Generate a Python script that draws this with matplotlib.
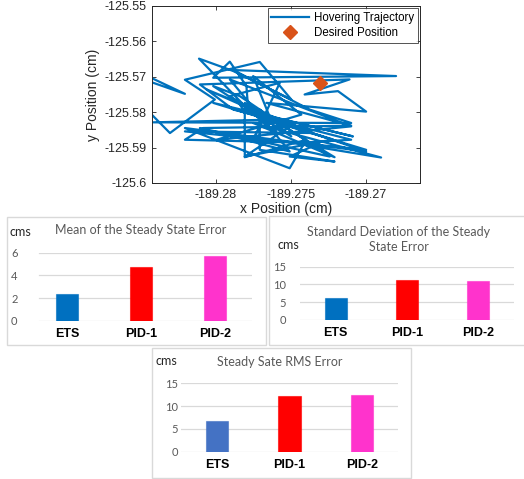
import matplotlib
matplotlib.use("Agg")
import matplotlib.pyplot as plt
from matplotlib.patches import Rectangle

W, H = 524, 479

# hovering trajectory (cm)
x_pos = [-189.28496, -189.28207, -189.28484, -189.28462, -189.28307, -189.28007,
         -189.28207, -189.27707, -189.27496, -189.27884, -189.28113, -189.27784,
         -189.27796, -189.27907, -189.28018, -189.26796, -189.27884, -189.27373,
         -189.27096, -189.28418, -189.27618, -189.26996, -189.28207, -189.27507,
         -189.27396, -189.27807, -189.27807, -189.27207, -189.27751, -189.26896,
         -189.27484, -189.27096, -189.27884, -189.28107, -189.27107, -189.27407,
         -189.27184, -189.26996, -189.27662, -189.27096, -189.28084, -189.28207,
         -189.27307, -189.27507, -189.27207, -189.27707, -189.27707, -189.27496,
         -189.28018, -189.27840, -189.27240, -189.28107, -189.27507, -189.27907,
         -189.27096, -189.27996, -189.27429, -189.27751, -189.27596, -189.27862,
         -189.27818, -189.27084, -189.28018, -189.27218, -189.27807, -189.27507,
         -189.28062, -189.27351, -189.28207, -189.26996, -189.27662, -189.27907,
         -189.27573, -189.27751]
y_pos = [-125.56903, -125.57481, -125.57074, -125.57926, -125.58589, -125.57642,
         -125.57083, -125.56581, -125.57642, -125.56837, -125.56487, -125.57926,
         -125.57263, -125.56572, -125.57027, -125.56979, -125.56809, -125.57926,
         -125.58305, -125.58286, -125.58210, -125.59110, -125.58447, -125.59583,
         -125.58778, -125.59271, -125.57737, -125.59271, -125.58305, -125.59280,
         -125.58873, -125.58778, -125.57926, -125.57216, -125.57074, -125.57500,
         -125.57405, -125.57983, -125.57737, -125.58381, -125.58447, -125.58778,
         -125.58873, -125.59252, -125.59394, -125.59063, -125.57926, -125.58684,
         -125.57263, -125.57547, -125.59252, -125.58447, -125.59110, -125.57074,
         -125.58400, -125.58778, -125.58068, -125.56979, -125.58589, -125.57642,
         -125.57926, -125.58684, -125.57737, -125.58769, -125.59252, -125.58400,
         -125.57358, -125.58589, -125.58542, -125.59063, -125.58210, -125.57547,
         -125.57170, -125.58778]
desired = (-189.27302, -125.57188)

methods = ["ETS", "PID-1", "PID-2"]
mean_err = [2.38, 4.74, 5.68]
std_err = [6.26, 11.15, 10.96]
rms_err = [6.8, 12.2, 12.37]

fig = plt.figure(figsize=(W / 100, H / 100), dpi=100)


def box(x0, y0, x1, y1):
    """figure fraction rect from pixel corners (top-left origin)"""
    return [x0 / W, 1 - y1 / H, (x1 - x0) / W, (y1 - y0) / H]


# ---- trajectory plot ----
mat_gray = "#262626"
ax = fig.add_axes(box(152, 6, 420, 183))
ax.plot(x_pos, y_pos, color="#0072BD", lw=1.6, label="Hovering Trajectory")
ax.plot(*desired, "D", color="#D95319", ms=7, mec="#D95319", label="Desired Position")
ax.set_xlim(-189.28427, -189.26636)
ax.set_ylim(-125.6, -125.55)
ax.set_xticks([-189.28, -189.275, -189.27])
ax.set_xticklabels(["-189.28", "-189.275", "-189.27"])
ax.set_yticks([-125.6, -125.59, -125.58, -125.57, -125.56, -125.55])
ax.set_yticklabels(["-125.6", "-125.59", "-125.58", "-125.57", "-125.56", "-125.55"])
ax.tick_params(direction="in", top=True, right=True, length=3, width=0.6,
               colors=mat_gray, labelsize=9, pad=4)
for lab in ax.get_xticklabels() + ax.get_yticklabels():
    lab.set_family("Liberation Sans")
for sp in ax.spines.values():
    sp.set_color(mat_gray)
    sp.set_linewidth(0.7)
ax.set_xlabel("x Position (cm)", family="Liberation Sans", fontsize=10,
              color=mat_gray, labelpad=1)
ax.set_ylabel("y Position (cm)", family="Liberation Sans", fontsize=10,
              color=mat_gray, labelpad=3)
leg = ax.legend(loc="upper right", prop={"family": "Liberation Sans", "size": 8.3},
                frameon=True, fancybox=False, borderaxespad=0.2, handlelength=3.3,
                borderpad=0.3, labelspacing=0.3, handletextpad=0.4)
leg.get_frame().set_edgecolor(mat_gray)
leg.get_frame().set_linewidth(0.7)

# ---- bar panels ----
tick_gray = "#595959"
grid_gray = "#D9D9D9"


def bar_panel(rect, frame, values, colors, ylim, yticks, title_lines, title_xy,
              cms_xy, pad, grid_start=0.0):
    fig.add_artist(Rectangle((frame[0] / W, 1 - frame[3] / H),
                             (frame[2] - frame[0]) / W, (frame[3] - frame[1]) / H,
                             transform=fig.transFigure, fill=False,
                             edgecolor=grid_gray, lw=1))
    a = fig.add_axes(rect)
    pos = range(len(methods))
    for yt in yticks:
        a.axhline(yt, xmin=grid_start, xmax=1, color=grid_gray, lw=0.9, zorder=0)
    a.bar(pos, values, width=0.31, color=colors, zorder=2,
          edgecolor=[c + "99" for c in colors], lw=0.8)
    a.set_xlim(-0.5, 2.5)
    a.set_ylim(*ylim)
    a.set_yticks(yticks)
    a.set_xticks(list(pos))
    a.set_xticklabels(methods, fontweight="bold", family="Liberation Sans",
                      fontsize=9, color="black")
    a.tick_params(axis="x", length=0, pad=5)
    a.tick_params(axis="y", length=0, pad=pad, labelcolor=tick_gray, labelsize=8)
    for lab in a.get_yticklabels():
        lab.set_family("Lato")
    for sp in a.spines.values():
        sp.set_visible(False)
    a.patch.set_alpha(0)
    fig.text(title_xy[0] / W, 1 - title_xy[1] / H, "\n".join(title_lines),
             ha="center", va="center", family="Lato", fontsize=9,
             color=tick_gray, linespacing=1.25)
    fig.text(cms_xy[0] / W, 1 - cms_xy[1] / H, "cms", ha="left", va="center",
             family="Lato", fontsize=9, color="#262626")
    return a


bar_panel(box(30, 252.7, 252, 320.7), (7, 217, 266, 345), mean_err,
          ["#0070C0", "#FF0000", "#FF33CC"], (0, 6), [0, 2, 4, 6],
          ["Mean of the Steady State Error"], (141, 230), (10, 232), 9, 0.04)

bar_panel(box(300, 266.7, 514, 320), (269, 216, 526, 345), std_err,
          ["#0070C0", "#FF0000", "#FF33CC"], (0, 15), [0, 5, 10, 15],
          ["Standard Deviation of the Steady", "State Error"], (399, 239.5),
          (277, 245), 10)

bar_panel(box(181, 383.3, 398, 451.7), (152, 348, 411, 478), rms_err,
          ["#4472C4", "#FF0000", "#FF33CC"], (0, 15), [0, 5, 10, 15],
          ["Steady Sate RMS Error"], (280, 362), (155, 361), 2)

fig.savefig("out.png", dpi=100, facecolor="white")
